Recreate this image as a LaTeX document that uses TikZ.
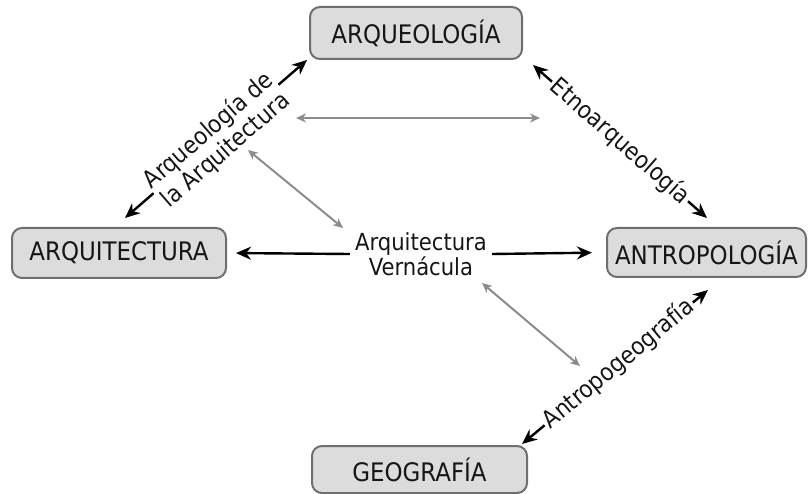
\documentclass[tikz,border=0pt]{standalone}
\usepackage{fontspec}
\setmainfont{DejaVu Sans Condensed}
\usetikzlibrary{arrows.meta}
\definecolor{boxfill}{HTML}{DCDCDC}
\definecolor{boxdraw}{HTML}{6E6E6E}
\definecolor{txt}{HTML}{161616}
\definecolor{greyline}{HTML}{8C8C8C}
\tikzset{
  concept/.style={draw=boxdraw, fill=boxfill, line width=2pt, rounded corners=10pt,
    text=txt, font=\fontsize{25.5}{28}\selectfont, inner sep=0pt},
  blk/.style={line width=2.4pt, black, {Stealth[length=15pt,width=13pt]}-{Stealth[length=15pt,width=13pt]}},
  blkone/.style={line width=2.4pt, black, -{Stealth[length=15pt,width=13pt]}},
  gry/.style={line width=2pt, draw=greyline, {Stealth[length=10pt,width=9pt]}-{Stealth[length=10pt,width=9pt]}},
  lab/.style={fill=white, text=txt, font=\fontsize{24}{26}\selectfont, inner sep=2pt, align=center},
}
\begin{document}
\begin{tikzpicture}[x=1pt,y=-1pt]
\useasboundingbox (0,0) rectangle (811,494);
\node[concept, minimum width=212pt, minimum height=52pt] (arqueo) at (416,33) {ARQUEOLOGÍA};
\node[concept, minimum width=214pt, minimum height=50pt] (arquit) at (119,253) {ARQUITECTURA};
\node[concept, minimum width=199pt, minimum height=49pt] (antrop) at (706.5,252.5) {ANTROPOLOGÍA};
\node[concept, minimum width=215pt, minimum height=47pt] (geo) at (419.5,469.5) {GEOGRAFÍA};
\node[text=txt, font=\fontsize{23.5}{24.5}\selectfont, align=center, inner xsep=5pt] (vern) at (421,254) {Arquitectura\\Vernácula};
% black horizontal arrows
\draw[blkone, shorten >=9pt] (vern.west) -- (arquit.east);
\draw[blkone, shorten >=14pt] (vern.east) -- (antrop.west);
% diagonal labelled arrows
\coordinate (ul1) at (125,218);
\coordinate (ul2) at (307,60);
\coordinate (ur1) at (533,65);
\coordinate (ur2) at (707,218);
\coordinate (lr1) at (522,444);
\coordinate (lr2) at (708,290);
\draw[blk] (ul1) -- node[lab, sloped, inner sep=1pt, yshift=-2pt] {Arqueología de\\la Arquitectura} (ul2);
\draw[blk] (ur1) -- node[lab, sloped] {Etnoarqueología} (ur2);
\draw[blk] (lr1) -- node[lab, sloped, pos=0.52] {Antropogeografía} (lr2);
% grey arrows
\coordinate (g1a) at (296,118);
\coordinate (g1b) at (540,118);
\coordinate (g2a) at (248,150);
\coordinate (g2b) at (343,228);
\coordinate (g3a) at (482,283);
\coordinate (g3b) at (580,366);
\draw[gry] (g1a) -- (g1b);
\draw[gry] (g2a) -- (g2b);
\draw[gry] (g3a) -- (g3b);
\end{tikzpicture}
\end{document}
